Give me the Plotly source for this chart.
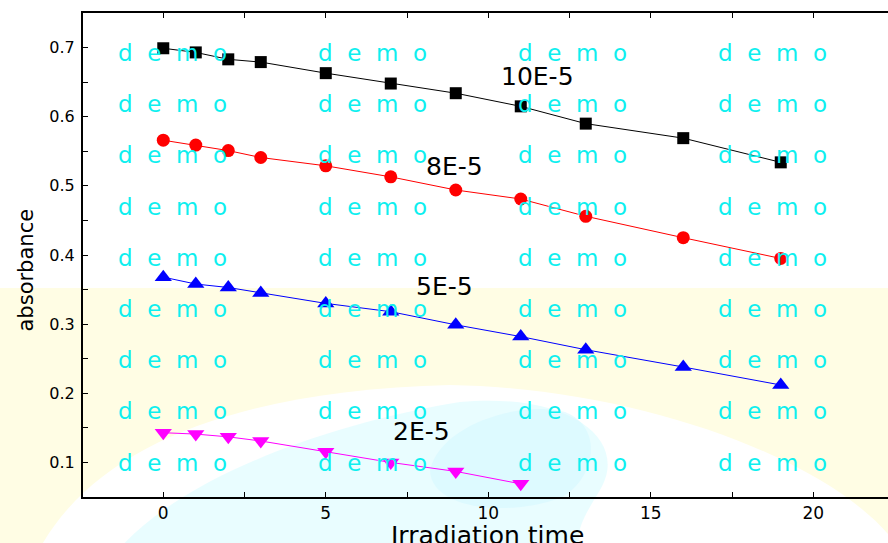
import plotly.graph_objects as go

# ---------------- data ----------------
time_main = [0, 1, 2, 3, 5, 7, 9, 11, 13, 16, 19]
abs_10e5 = [0.699, 0.693, 0.683, 0.679, 0.663, 0.648, 0.634, 0.615, 0.590, 0.569, 0.534]
abs_8e5 = [0.566, 0.559, 0.551, 0.541, 0.529, 0.513, 0.494, 0.481, 0.456, 0.425, 0.395]
abs_5e5 = [0.368, 0.358, 0.353, 0.345, 0.330, 0.318, 0.299, 0.282, 0.263, 0.238, 0.212]
time_short = [0, 1, 2, 3, 5, 7, 9, 11]
abs_2e5 = [0.143, 0.141, 0.137, 0.131, 0.1155, 0.100, 0.087, 0.069]
series_names = ["10E-5", "8E-5", "5E-5", "2E-5"]
x_ticks = [0, 5, 10, 15, 20]
y_ticks = [0.1, 0.2, 0.3, 0.4, 0.5, 0.6, 0.7]
x_title = "Irradiation time"
y_title = "absorbance"
watermark = "d\u00a0 e\u00a0 m\u00a0 o"

# ---------------- styling / layout ----------------
FONT = "DejaVu Sans, Arial, sans-serif"
W, H = 888, 543
PL, PR, PT, PB = 83, 888, 13, 497      # plot area in pixels

def px2paper(px, py):
    return (px - PL) / (PR - PL), (PB - py) / (PB - PT)

def path_px(points, close=True):
    s = ""
    for cmd, pts in points:
        s += cmd
        s += " ".join("%.4f,%.4f" % px2paper(*p) for p in pts) + " "
    if close:
        s += "Z"
    return s

styles = [
    dict(color="black", symbol="square", size=12),
    dict(color="red", symbol="circle", size=13),
    dict(color="blue", symbol="triangle-up", size=15),
    dict(color="magenta", symbol="triangle-down", size=15),
]
label_pos = [(11.53, 0.658), (8.95, 0.528), (8.64, 0.355), (7.96, 0.1446)]

fig = go.Figure()
xs = [time_main, time_main, time_main, time_short]
ys = [abs_10e5, abs_8e5, abs_5e5, abs_2e5]
for name, x, y, st in zip(series_names, xs, ys, styles):
    fig.add_trace(go.Scatter(
        x=x, y=y, mode="lines+markers", name=name,
        line=dict(color=st["color"], width=1),
        marker=dict(color=st["color"], symbol=st["symbol"], size=st["size"],
                    line=dict(width=0)),
        showlegend=False,
    ))

annotations = []
for name, (lx, ly) in zip(series_names, label_pos):
    annotations.append(dict(x=lx, y=ly, xref="x", yref="y", text=name,
                            showarrow=False, font=dict(family=FONT, size=25, color="black"),
                            xanchor="center", yanchor="middle"))

# axis titles
tx, ty = px2paper(488, 535)
annotations.append(dict(x=tx, y=ty, xref="paper", yref="paper", text=x_title, showarrow=False,
                        font=dict(family=FONT, size=25, color="black"),
                        xanchor="center", yanchor="middle"))
tx, ty = px2paper(25.5, 270)
annotations.append(dict(x=tx, y=ty, xref="paper", yref="paper", text=y_title, showarrow=False,
                        textangle=-90, font=dict(family=FONT, size=21, color="black"),
                        xanchor="center", yanchor="middle"))

# watermark grid
col_left = [118, 318, 518, 718]
row_base = [61 + 51.2 * i for i in range(9)]
for cx in col_left:
    for by in row_base:
        px, py = px2paper(cx - 2, by - 8)
        annotations.append(dict(x=px, y=py, xref="paper", yref="paper", text=watermark,
                                showarrow=False, font=dict(family=FONT, size=23, color="#0EEFEF"),
                                xanchor="left", yanchor="middle"))

shapes = []
# yellow band
x0, y0 = px2paper(-5, 548)
x1, y1 = px2paper(893, 288)
shapes.append(dict(type="rect", xref="paper", yref="paper", x0=x0, y0=y0, x1=x1, y1=y1,
                   fillcolor="#FFFDE4", line=dict(width=0), layer="below"))
# white arch
shapes.append(dict(type="path", xref="paper", yref="paper", layer="below",
                   path=path_px([("M", [(40, 548)]),
                                 ("C", [(100, 440), (250, 390), (450, 385)]),
                                 ("C", [(640, 388), (830, 460), (893, 540)]),
                                 ("L", [(893, 548)])]),
                   fillcolor="white", line=dict(width=0)))
# light cyan blob
shapes.append(dict(type="path", xref="paper", yref="paper", layer="below",
                   path=path_px([("M", [(120, 548)]),
                                 ("C", [(180, 480), (320, 425), (460, 402)]),
                                 ("C", [(570, 392), (630, 440), (600, 490)]),
                                 ("C", [(585, 515), (575, 530), (580, 548)])]),
                   fillcolor="#E2FCFF", opacity=0.75, line=dict(width=0)))
shapes.append(dict(type="path", xref="paper", yref="paper", layer="below",
                   path=path_px([("M", [(430, 470)]),
                                 ("C", [(440, 425), (520, 400), (565, 412)]),
                                 ("C", [(605, 428), (595, 480), (560, 498)]),
                                 ("C", [(505, 518), (430, 508), (430, 470)])]),
                   fillcolor="#D2F8FF", opacity=0.5, line=dict(width=0)))

fig.update_layout(
    width=W, height=H,
    margin=dict(l=PL, r=W - PR, t=PT, b=H - PB, pad=0),
    paper_bgcolor="white", plot_bgcolor="rgba(0,0,0,0)",
    font=dict(family=FONT, color="black"),
    annotations=annotations, shapes=shapes,
)
fig.update_xaxes(
    range=[-2.47, 22.3], tickmode="array", tickvals=x_ticks,
    ticktext=[str(v) for v in x_ticks],
    showline=True, linecolor="black", linewidth=2, mirror="ticks",
    ticks="inside", ticklen=5, tickwidth=1, tickcolor="black",
    minor=dict(dtick=2.5, tick0=0, ticks="inside", ticklen=5, tickwidth=1, tickcolor="black"),
    showgrid=False, zeroline=False,
    tickfont=dict(family=FONT, size=17),
)
fig.update_yaxes(
    range=[0.05, 0.75], tickmode="array", tickvals=y_ticks,
    ticktext=["%.1f" % v for v in y_ticks],
    showline=True, linecolor="black", linewidth=2, mirror=False,
    ticks="inside", ticklen=5, tickwidth=1, tickcolor="black",
    minor=dict(dtick=0.05, tick0=0.05, ticks="inside", ticklen=5, tickwidth=1, tickcolor="black"),
    showgrid=False, zeroline=False,
    tickfont=dict(family=FONT, size=16),
    ticklabelstandoff=3,
)

fig.write_html("out.html")
